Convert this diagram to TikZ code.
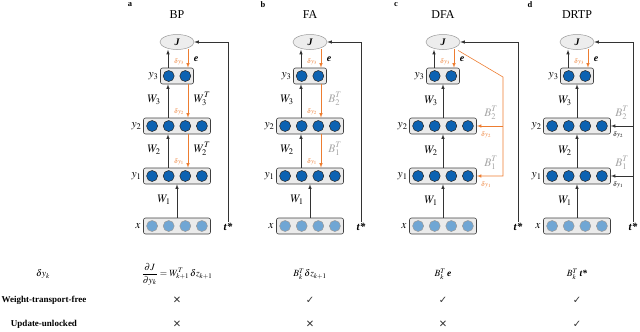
\documentclass[tikz,border=0pt]{standalone}
\usepackage{mathptmx}
\usepackage[no-math]{fontspec}
\setmainfont{Liberation Serif}
\newfontfamily\tickfont{DejaVu Sans}
\usetikzlibrary{shapes.geometric,positioning}

\definecolor{unitblue}{RGB}{12,98,178}
\definecolor{inblue}{RGB}{112,166,212}
\definecolor{fbkorange}{RGB}{237,125,49}
\definecolor{tgrey}{RGB}{165,165,165}

\begin{document}
\begin{tikzpicture}[
x=1pt,y=-1pt,
every node/.style={inner sep=1pt},
layer/.style={draw=black!75, fill=black!8, rounded corners=2pt, minimum height=16pt, inner sep=0pt, line width=0.6pt},
unit/.style={circle, draw=black!85, fill=unitblue, minimum size=11pt, inner sep=0pt, line width=0.5pt},
inunit/.style={unit, draw=black!40, fill=inblue},
cost/.style={ellipse, draw=black!40, fill=black!7, minimum width=34pt, minimum height=15pt, inner sep=0pt, line width=0.5pt},
fwd/.style={-latex, draw=black!80, line width=0.6pt},
bwd/.style={-latex, draw=fbkorange, line width=0.6pt},
panel/.style={font=\bfseries\fontsize{8.5}{9}\selectfont},
title/.style={font=\fontsize{12}{13}\selectfont},
wlbl/.style={font=\fontsize{11.5}{12}\selectfont},
btlbl/.style={text=tgrey, font=\fontsize{11.5}{12}\selectfont},
dlbl/.style={text=fbkorange, font=\fontsize{6.5}{7}\selectfont, inner sep=0.5pt},
elbl/.style={font=\bfseries\itshape\fontsize{10}{11}\selectfont},
tlbl/.style={font=\bfseries\itshape\fontsize{11}{12}\selectfont},
tbl/.style={font=\fontsize{9.5}{11}\selectfont},
rowlbl/.style={font=\bfseries\fontsize{9}{10}\selectfont},
tickmark/.style={font=\tickfont\fontsize{10}{11}\selectfont, text=black!80}
]
\useasboundingbox (0,0) rectangle (640,332);

% the four networks
\foreach \p/\cx/\ttl in {a/177/BP, b/310/FA, c/443/DFA, d/577/DRTP}{
\node[panel] (lab\p) at (\cx-47,5) {\p};
\node[title] (ttl\p) at (\cx,15) {\ttl};
\node[cost] (J\p) at (\cx,42) {\bfseries\itshape J};
\node[layer, minimum width=33pt] (y3\p) at (\cx,76) {};
\node[layer, minimum width=67pt] (y2\p) at (\cx,126) {};
\node[layer, minimum width=67pt] (y1\p) at (\cx,176) {};
\node[layer, minimum width=67pt] (x\p) at (\cx,226) {};
\foreach \k [count=\n] in {-0.5,0.5}
\node[unit] (u3\p\n) at ({\cx+\k*16.6},76) {};
\foreach \k [count=\n] in {-1.5,-0.5,0.5,1.5}{
\node[unit] (u2\p\n) at ({\cx+\k*16.6},126) {};
\node[unit] (u1\p\n) at ({\cx+\k*16.6},176) {};
\node[inunit] (u0\p\n) at ({\cx+\k*16.6},226) {};
}
\node[wlbl, left=0.5pt of y3\p] (ly3\p) {$y_3$};
\node[wlbl, left=0.5pt of y2\p] (ly2\p) {$y_2$};
\node[wlbl, left=0.5pt of y1\p] (ly1\p) {$y_1$};
\node[wlbl, left=1.5pt of x\p] (lx\p) {$x$};
\draw[fwd] (x\p) -- (y1\p);
\draw[fwd] ([xshift=-9pt]y3\p.north) -- ([xshift=-9pt]J\p.south);
\draw[bwd] ([shift={(11pt,1pt)}]J\p.south) -- ([xshift=11pt]y3\p.north);
}

% BP
\draw[fwd] ([xshift=-9pt]y2a.north) -- ([xshift=-9pt]y3a.south);
\draw[bwd] ([xshift=11pt]y3a.south) -- ([xshift=11pt]y2a.north);
\draw[fwd] ([xshift=-9pt]y1a.north) -- ([xshift=-9pt]y2a.south);
\draw[bwd] ([xshift=11pt]y2a.south) -- ([xshift=11pt]y1a.north);
\node[wlbl] (w3a) at (154,100) {$W_3$};
\node[wlbl] (w3ta) at (202,99) {$W_3^T$};
\node[wlbl] (w2a) at (154,150) {$W_2$};
\node[wlbl] (w2ta) at (202,149) {$W_2^T$};
\node[wlbl] (w1a) at (164,200) {$W_1$};
\node[dlbl] (d3a) at (179,62) {$\delta y_3$};
\node[dlbl] (d2a) at (179,112) {$\delta y_2$};
\node[dlbl] (d1a) at (179,162) {$\delta y_1$};
\node[elbl] (ea) at (196,59) {e};
\node[tlbl] (ta) at (228,227) {t*};
\draw[fwd] (ta) |- (Ja);

% FA
\draw[fwd] ([xshift=-9pt]y2b.north) -- ([xshift=-9pt]y3b.south);
\draw[bwd] ([xshift=11pt]y3b.south) -- ([xshift=11pt]y2b.north);
\draw[fwd] ([xshift=-9pt]y1b.north) -- ([xshift=-9pt]y2b.south);
\draw[bwd] ([xshift=11pt]y2b.south) -- ([xshift=11pt]y1b.north);
\node[wlbl] (w3b) at (287,100) {$W_3$};
\node[btlbl] (b2b) at (335,99) {$B_2^T$};
\node[wlbl] (w2b) at (287,150) {$W_2$};
\node[btlbl] (b1b) at (335,149) {$B_1^T$};
\node[wlbl] (w1b) at (297,200) {$W_1$};
\node[dlbl] (d3b) at (312,62) {$\delta y_3$};
\node[dlbl] (d2b) at (312,112) {$\delta y_2$};
\node[dlbl] (d1b) at (312,162) {$\delta y_1$};
\node[elbl] (eb) at (329,59) {e};
\node[tlbl] (tb) at (361,227) {t*};
\draw[fwd] (tb) |- (Jb);

% DFA
\draw[fwd] (y2c) -- (y3c);
\draw[fwd] (y1c) -- (y2c);
\node[wlbl] (w3c) at (431,101) {$W_3$};
\node[wlbl] (w2c) at (431,151) {$W_2$};
\node[wlbl] (w1c) at (431,201) {$W_1$};
\node[dlbl] (d3c) at (445,62) {$\delta y_3$};
\node[elbl] (ec) at (462,59) {e};
\coordinate (dfatop) at (503,77);
\coordinate (dfa2) at (503,126);
\draw[bwd] ([shift={(3pt,-3pt)}]Jc.south east) -- (dfatop) |- (y1c);
\draw[bwd] (dfa2) -- (y2c);
\node[btlbl] (b2c) at (491,113) {$B_2^T$};
\node[btlbl] (b1c) at (491,163) {$B_1^T$};
\node[dlbl] (d2c) at (486,135) {$\delta y_2$};
\node[dlbl] (d1c) at (486,185) {$\delta y_1$};
\node[tlbl] (tc) at (518,227) {t*};
\draw[fwd] (tc) |- (Jc);

% DRTP
\draw[fwd] (y2d) -- (y3d);
\draw[fwd] (y1d) -- (y2d);
\node[wlbl] (w3d) at (565,101) {$W_3$};
\node[wlbl] (w2d) at (565,151) {$W_2$};
\node[wlbl] (w1d) at (565,201) {$W_1$};
\node[dlbl] (d3d) at (579,62) {$\delta y_3$};
\node[elbl] (ed) at (596,59) {e};
\node[tlbl] (td) at (633,227) {t*};
\draw[fwd] (td) |- (Jd);
\coordinate (drtp2) at (633,126);
\coordinate (drtp1) at (633,176);
\draw[fwd] (drtp2) -- (y2d);
\draw[fwd] (drtp1) -- (y1d);
\node[btlbl] (b2d) at (622,113) {$B_2^T$};
\node[btlbl] (b1d) at (622,163) {$B_1^T$};
\node[dlbl, text=black] (d2d) at (618,135) {$\delta y_2$};
\node[dlbl, text=black] (d1d) at (618,185) {$\delta y_1$};

% table
\node[tbl] (dyk) at (43,274) {$\delta y_k$};
\node[tbl] (fbp) at (177,274) {$\displaystyle\frac{\partial J}{\partial y_k} = W_{k+1}^{T}\,\delta z_{k+1}$};
\node[tbl] (ffa) at (310,274) {$B_k^T\delta z_{k+1}$};
\node[tbl] (fdfa) at (443,274) {$B_k^T$\,\textbf{\textit{e}}};
\node[tbl] (fdrtp) at (577,274) {$B_k^T$\,\textbf{\textit{t*}}};
\node[rowlbl] (wtf) at (44,300) {Weight-transport-free};
\node[rowlbl] (uul) at (44,324) {Update-unlocked};
\node[tickmark] (wa) at (177,300) {✕};
\node[tickmark] (wb) at (310,300) {✓};
\node[tickmark] (wc) at (443,300) {✓};
\node[tickmark] (wd) at (577,300) {✓};
\node[tickmark] (ua) at (177,324) {✕};
\node[tickmark] (ub) at (310,324) {✕};
\node[tickmark] (uc) at (443,324) {✕};
\node[tickmark] (ud) at (577,324) {✓};

\end{tikzpicture}
\end{document}
